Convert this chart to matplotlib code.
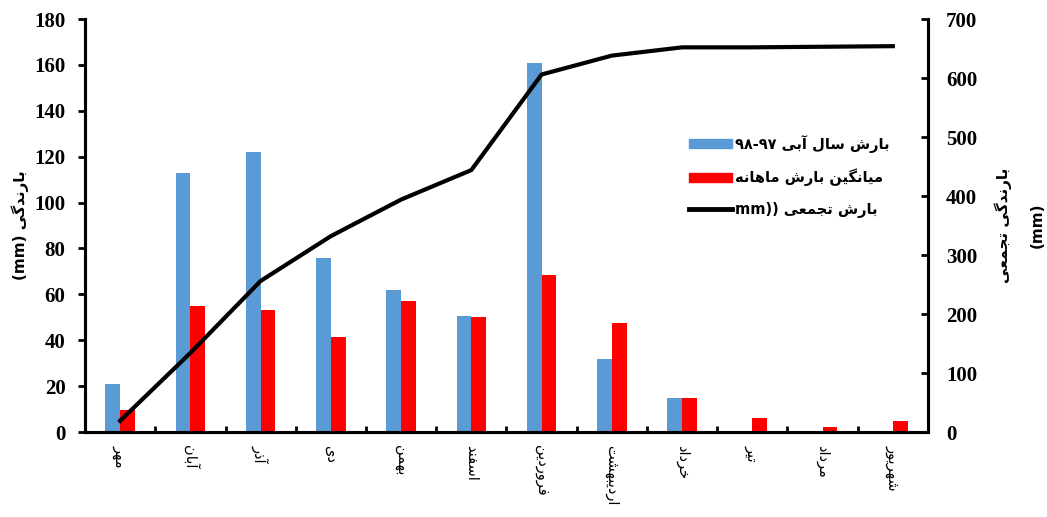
import numpy as np
import matplotlib
matplotlib.use('Agg')
import matplotlib.pyplot as plt
from matplotlib.lines import Line2D
from matplotlib.patches import Patch

# Persian months (water year starts in Mehr)
months = ['مهر', 'آبان', 'آذر', 'دی', 'بهمن', 'اسفند',
          'فروردین', 'اردیبهشت', 'خرداد', 'تیر', 'مرداد', 'شهریور']

# rainfall of water year 97-98 (mm)
rain_9798 = [21, 113, 122, 76, 62, 50.5, 161, 32, 15, 0, 0.6, 0]
# long-term monthly mean rainfall (mm)
rain_mean = [9.5, 55, 53, 41.5, 57, 50, 68.5, 47.5, 15, 6, 2, 5]
# cumulative rainfall (mm), right axis
rain_cum = [19, 134, 256, 332, 394, 444, 606, 638, 652, 652, 653, 654]

# --- tiny arabic shaper (matplotlib does not shape / reorder RTL text) ---
FORMS = {
    'ا': (0xFE8D, 0xFE8E), 'آ': (0xFE81, 0xFE82),
    'د': (0xFEA9, 0xFEAA), 'ذ': (0xFEAB, 0xFEAC),
    'ر': (0xFEAD, 0xFEAE), 'ز': (0xFEAF, 0xFEB0),
    'و': (0xFEED, 0xFEEE),
    'ب': (0xFE8F, 0xFE90, 0xFE91, 0xFE92), 'ت': (0xFE95, 0xFE96, 0xFE97, 0xFE98),
    'ج': (0xFE9D, 0xFE9E, 0xFE9F, 0xFEA0), 'خ': (0xFEA5, 0xFEA6, 0xFEA7, 0xFEA8),
    'س': (0xFEB1, 0xFEB2, 0xFEB3, 0xFEB4), 'ش': (0xFEB5, 0xFEB6, 0xFEB7, 0xFEB8),
    'ع': (0xFEC9, 0xFECA, 0xFECB, 0xFECC), 'ف': (0xFED1, 0xFED2, 0xFED3, 0xFED4),
    'ل': (0xFEDD, 0xFEDE, 0xFEDF, 0xFEE0), 'م': (0xFEE1, 0xFEE2, 0xFEE3, 0xFEE4),
    'ن': (0xFEE5, 0xFEE6, 0xFEE7, 0xFEE8), 'ه': (0xFEE9, 0xFEEA, 0xFEEB, 0xFEEC),
    'ی': (0xFBFC, 0xFBFD, 0xFBFE, 0xFBFF), 'گ': (0xFB92, 0xFB93, 0xFB94, 0xFB95),
    'ک': (0xFB8E, 0xFB8F, 0xFB90, 0xFB91),
}


def shape(s):
    out = []
    for i, c in enumerate(s):
        if c not in FORMS:
            out.append(c)
            continue
        f = FORMS[c]
        prev = s[i - 1] if i > 0 else ''
        nxt = s[i + 1] if i + 1 < len(s) else ''
        join_prev = prev in FORMS and len(FORMS[prev]) == 4
        join_next = len(f) == 4 and nxt in FORMS
        if join_prev and join_next:
            out.append(chr(f[3]))
        elif join_prev:
            out.append(chr(f[1]))
        elif join_next:
            out.append(chr(f[2]))
        else:
            out.append(chr(f[0]))
    return ''.join(out)


def fa(s):
    return shape(s)[::-1]


fig = plt.figure(figsize=(10.47, 5.17), dpi=100)
ax = fig.add_axes([0.0812, 0.1644, 0.8051, 0.7988])
ax2 = ax.twinx()

x = np.arange(len(months))
w = 0.21
blue = '#5B9BD5'
red = '#FF0000'

ax.bar(x - w / 2, rain_9798, w, color=blue, zorder=2)
ax.bar(x + w / 2, rain_mean, w, color=red, zorder=2)
ax2.plot(x, rain_cum, color='black', lw=3, zorder=3)

ax.set_xlim(-0.5, len(months) - 0.5)
ax.set_ylim(0, 180)
ax.set_yticks(np.arange(0, 181, 20))
ax2.set_ylim(0, 700)
ax2.set_yticks(np.arange(0, 701, 100))

num_font = dict(family='Liberation Serif', weight='bold', size=15)
ax.set_yticklabels([str(v) for v in range(0, 181, 20)], **num_font)
ax2.set_yticklabels([str(v) for v in range(0, 701, 100)], **num_font)

ax.set_xticks(x)
ax.set_xticklabels([fa(m) for m in months], rotation=-90, family='DejaVu Sans',
                   fontsize=10.5, va='top', ha='center')
ax.set_xticks(np.arange(-0.5, len(months), 1), minor=True)
ax.tick_params(axis='x', which='major', length=0, pad=9)
ax.tick_params(axis='x', which='minor', direction='in', length=4, width=2)
ax.tick_params(axis='y', direction='out', length=5, width=2, pad=9)
ax2.tick_params(axis='y', direction='in', length=5, width=2, pad=13)

for a in (ax, ax2):
    a.spines['top'].set_visible(False)
    for s in ('left', 'right', 'bottom'):
        a.spines[s].set_linewidth(2.2)

ax.set_ylabel('(mm) ' + fa('بارندگی'), family='DejaVu Sans', fontsize=11,
              fontweight='bold', labelpad=4)
ax2.set_ylabel(fa('بارندگی تجمعی') + '\n(mm)', family='DejaVu Sans', fontsize=11,
               fontweight='bold', rotation=90, labelpad=12, linespacing=2.5)

handles = [Patch(color=blue), Patch(color=red), Line2D([], [], color='black', lw=3.5)]
labels = ['۹۸-۹۷ ' + fa('بارش سال آبی'),
          fa('میانگین بارش ماهانه'),
          'mm)) ' + fa('بارش تجمعی')]
leg = ax.legend(handles, labels, loc='upper left', bbox_to_anchor=(0.716, 0.72),
                frameon=False, borderpad=0, borderaxespad=0,
                prop=dict(family='DejaVu Sans', size=10.5, weight='bold'),
                handlelength=3.0, handleheight=0.6, handletextpad=0.2,
                labelspacing=1.1)

fig.savefig('out.png', dpi=100)
